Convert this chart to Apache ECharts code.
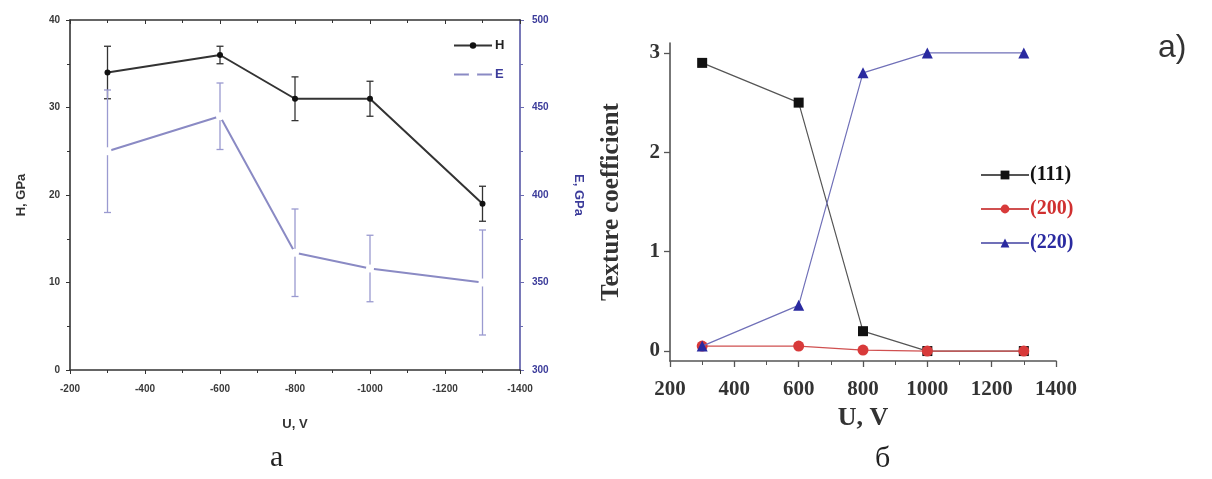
<!DOCTYPE html>
<html>
<head>
<meta charset="utf-8">
<script src="https://cdn.jsdelivr.net/npm/echarts@6/dist/echarts.min.js"></script>
<style>
html,body{margin:0;padding:0;background:#fff;}
#chart{width:1212px;height:479px;}
</style>
</head>
<body>
<div id="chart"></div>
<script>
// ---- Data (panel a) ----
const leftU = [-300, -600, -800, -1000, -1300];
const hValues = [34, 36, 31, 31, 19];
const hErr = [3, 1, 2.5, 2, 2];
const eValues = [425, 445, 367, 358, 350];
const eErr = [35, 19, 25, 19, 30];
const leftXTicks = { min: -1400, max: -200, step: 200 };
const hTicks = { min: 0, max: 40, step: 10 };
const eTicks = { min: 300, max: 500, step: 50 };

// ---- Data (panel б) ----
const rightU = [300, 600, 800, 1000, 1300];
const tc111 = [2.9, 2.5, 0.2, 0.0, 0.0];
const tc200 = [0.05, 0.05, 0.01, 0.0, 0.0];
const tc220 = [0.05, 0.46, 2.8, 3.0, 3.0];
const rightXTicks = { min: 200, max: 1400, step: 200 };
const tcLabels = [0, 1, 2, 3];

const chart = echarts.init(document.getElementById('chart'), null, { renderer: 'canvas' });

function errBar(color) {
  return function (params, api) {
    const x = api.value(0), y = api.value(1), e = api.value(2);
    const hi = api.coord([x, y + e]);
    const lo = api.coord([x, y - e]);
    const w = 3.5;
    const st = { stroke: color, lineWidth: 1.3 };
    return {
      type: 'group',
      children: [
        { type: 'line', shape: { x1: hi[0], y1: hi[1], x2: lo[0], y2: lo[1] }, style: st },
        { type: 'line', shape: { x1: hi[0] - w, y1: hi[1], x2: hi[0] + w, y2: hi[1] }, style: st },
        { type: 'line', shape: { x1: lo[0] - w, y1: lo[1], x2: lo[0] + w, y2: lo[1] }, style: st }
      ]
    };
  };
}

const plain = v => String(v);
const sansLbl = { fontFamily: 'Liberation Sans, Arial', fontWeight: 'bold', fontSize: 10, color: '#3a3a3a', formatter: plain };
const serifBold = 'Liberation Serif, Times New Roman, serif';
const eBlue = '#3b3b9a';
const eLine = '#8a8ac4';

const option = {
  backgroundColor: '#fff',
  animation: false,
  grid: [
    { left: 70, right: 692, top: 20, bottom: 109 },
    { left: 670, right: 156, top: 43, bottom: 118 }
  ],
  legend: [
    {
      left: 448, top: 34, orient: 'vertical', itemWidth: 38, itemHeight: 8, itemGap: 16,
      data: [
        { name: 'H', textStyle: { color: '#222' } },
        { name: 'E', textStyle: { color: eBlue } }
      ],
      textStyle: { fontFamily: 'Liberation Sans, Arial', fontWeight: 'bold', fontSize: 13, padding: [0, 0, 0, -2] }
    },
    {
      left: 975, top: 160, orient: 'vertical', itemWidth: 48, itemHeight: 11, itemGap: 14,
      data: [
        { name: '(111)', textStyle: { color: '#111' } },
        { name: '(200)', textStyle: { color: '#d03030' } },
        { name: '(220)', textStyle: { color: '#2a2aa0' } }
      ],
      textStyle: { fontFamily: serifBold, fontWeight: 'bold', fontSize: 20, padding: [0, 0, 0, -4] }
    }
  ],
  xAxis: [
    {
      gridIndex: 0, type: 'value', position: 'bottom', inverse: true,
      min: leftXTicks.min, max: leftXTicks.max, interval: leftXTicks.step,
      axisLine: { onZero: false, lineStyle: { color: '#333', width: 1.6 } },
      axisTick: { length: 4, lineStyle: { color: '#333' } },
      minorTick: { show: true, splitNumber: 2, length: 3, lineStyle: { color: '#333' } },
      splitLine: { show: false },
      axisLabel: Object.assign({}, sansLbl, { margin: 14 }),
      name: 'U, V', nameLocation: 'middle', nameGap: 48,
      nameTextStyle: { fontFamily: 'Liberation Sans, Arial', fontWeight: 'bold', fontSize: 13, color: '#333' }
    },
    {
      gridIndex: 0, type: 'value', position: 'top', inverse: true,
      min: leftXTicks.min, max: leftXTicks.max, interval: leftXTicks.step,
      axisLine: { onZero: false, lineStyle: { color: '#333', width: 1.6 } },
      axisTick: { inside: true, length: 4, lineStyle: { color: '#333' } },
      minorTick: { show: true, splitNumber: 2, length: 3, lineStyle: { color: '#333' } },
      splitLine: { show: false },
      axisLabel: { show: false }
    },
    {
      gridIndex: 1, type: 'value', position: 'bottom',
      min: rightXTicks.min, max: rightXTicks.max, interval: rightXTicks.step,
      axisLine: { onZero: false, lineStyle: { color: '#555', width: 1.6 } },
      axisTick: { length: 6, lineStyle: { color: '#555', width: 1.3 } },
      minorTick: { show: true, splitNumber: 2, length: 4, lineStyle: { color: '#555' } },
      splitLine: { show: false },
      axisLabel: { fontFamily: serifBold, fontWeight: 'bold', fontSize: 21, color: '#333', margin: 18, formatter: plain },
      name: 'U, V', nameLocation: 'middle', nameGap: 42,
      nameTextStyle: { fontFamily: serifBold, fontWeight: 'bold', fontSize: 26, color: '#333' }
    }
  ],
  yAxis: [
    {
      gridIndex: 0, type: 'value', position: 'left',
      min: hTicks.min, max: hTicks.max, interval: hTicks.step,
      axisLine: { show: true, onZero: false, lineStyle: { color: '#333', width: 1.6 } },
      axisTick: { length: 4, lineStyle: { color: '#333' } },
      minorTick: { show: true, splitNumber: 2, length: 3, lineStyle: { color: '#333' } },
      splitLine: { show: false },
      axisLabel: Object.assign({}, sansLbl, { margin: 10 }),
      name: 'H, GPa', nameLocation: 'middle', nameGap: 42, nameRotate: 90,
      nameTextStyle: { fontFamily: 'Liberation Sans, Arial', fontWeight: 'bold', fontSize: 13, color: '#333' }
    },
    {
      gridIndex: 0, type: 'value', position: 'right',
      min: eTicks.min, max: eTicks.max, interval: eTicks.step,
      axisLine: { show: true, onZero: false, lineStyle: { color: '#6a6ab0', width: 1.8 } },
      axisTick: { length: 4, lineStyle: { color: '#6a6ab0' } },
      minorTick: { show: true, splitNumber: 2, length: 3, lineStyle: { color: '#6a6ab0' } },
      splitLine: { show: false },
      axisLabel: Object.assign({}, sansLbl, { margin: 12, color: eBlue }),
      name: 'E, GPa', nameLocation: 'middle', nameGap: 52, nameRotate: -90,
      nameTextStyle: { fontFamily: 'Liberation Sans, Arial', fontWeight: 'bold', fontSize: 13, color: eBlue }
    },
    {
      gridIndex: 1, type: 'value', position: 'left',
      min: -0.1, max: 3.1,
      axisLine: { show: true, onZero: false, lineStyle: { color: '#555', width: 1.6 } },
      axisTick: { length: 6, customValues: tcLabels, lineStyle: { color: '#555', width: 1.3 } },
      splitLine: { show: false },
      axisLabel: { customValues: tcLabels, fontFamily: serifBold, fontWeight: 'bold', fontSize: 21, color: '#333', margin: 10 },
      name: 'Texture coefficient', nameLocation: 'middle', nameGap: 46, nameRotate: 90,
      nameTextStyle: { fontFamily: serifBold, fontWeight: 'bold', fontSize: 25, color: '#333' }
    }
  ],
  series: [
    {
      type: 'custom', name: 'Herr', xAxisIndex: 0, yAxisIndex: 0, z: 2,
      renderItem: errBar('#333'),
      data: leftU.map((u, i) => [u, hValues[i], hErr[i]])
    },
    {
      type: 'custom', name: 'Eerr', xAxisIndex: 0, yAxisIndex: 1, z: 2,
      renderItem: errBar('#9a9ad0'),
      data: leftU.map((u, i) => [u, eValues[i], eErr[i]])
    },
    {
      type: 'line', name: 'E', xAxisIndex: 0, yAxisIndex: 1, z: 3,
      data: leftU.map((u, i) => [u, eValues[i]]),
      symbol: 'emptyCircle', symbolSize: 6,
      lineStyle: { color: eLine, width: 2 },
      itemStyle: { color: '#fff', borderColor: eLine, borderWidth: 1.2 }
    },
    {
      type: 'line', name: 'H', xAxisIndex: 0, yAxisIndex: 0, z: 4,
      data: leftU.map((u, i) => [u, hValues[i]]),
      symbol: 'circle', symbolSize: 6,
      lineStyle: { color: '#333', width: 2 },
      itemStyle: { color: '#111' }
    },
    {
      type: 'line', name: '(111)', xAxisIndex: 2, yAxisIndex: 2, z: 3,
      data: rightU.map((u, i) => [u, tc111[i]]),
      symbol: 'rect', symbolSize: 10,
      lineStyle: { color: '#555', width: 1.2 },
      itemStyle: { color: '#111' }
    },
    {
      type: 'line', name: '(200)', xAxisIndex: 2, yAxisIndex: 2, z: 4,
      data: rightU.map((u, i) => [u, tc200[i]]),
      symbol: 'circle', symbolSize: 11,
      lineStyle: { color: '#d05050', width: 1.2 },
      itemStyle: { color: '#d83a3a' }
    },
    {
      type: 'line', name: '(220)', xAxisIndex: 2, yAxisIndex: 2, z: 5,
      data: rightU.map((u, i) => [u, tc220[i]]),
      symbol: 'triangle', symbolSize: 11,
      lineStyle: { color: '#7070b8', width: 1.2 },
      itemStyle: { color: '#2a2aa0' }
    }
  ],
  graphic: [
    { type: 'text', left: 1158, top: 32, style: { text: 'a)', font: '32px Liberation Sans, Arial', fill: '#333' } },
    { type: 'text', left: 270, top: 443, style: { text: 'a', font: '30px Liberation Serif, serif', fill: '#222' } },
    { type: 'text', left: 875, top: 444, style: { text: 'б', font: '30px Liberation Serif, serif', fill: '#222' } }
  ]
};
chart.setOption(option);
</script>
</body>
</html>
